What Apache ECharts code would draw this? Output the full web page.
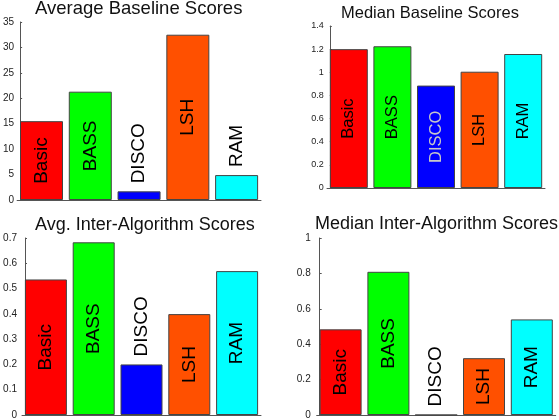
<!DOCTYPE html>
<html>
<head>
<meta charset="utf-8">
<script src="https://cdn.jsdelivr.net/npm/echarts@6/dist/echarts.min.js"></script>
<style>
  html,body{margin:0;padding:0;background:#fff;}
  #main{width:559px;height:420px;}
</style>
</head>
<body>
<div id="main"></div>
<script>
// algorithms on every panel
var algorithms = ['Basic', 'BASS', 'DISCO', 'LSH', 'RAM'];
var barColors = ['#ff0000', '#00ff00', '#0000ff', '#ff5000', '#00ffff'];

// scores
var avgBaseline = [15.5, 21.3, 1.7, 32.5, 4.9];
var medianBaseline = [1.2, 1.225, 0.885, 1.005, 1.158];
var avgInter = [0.536, 0.683, 0.2, 0.399, 0.569];
var medianInter = [0.484, 0.809, 0, 0.321, 0.54];

var FONT = '"Liberation Sans", Arial, Helvetica, sans-serif';

var panels = [
    {title: 'Average Baseline Scores', data: avgBaseline, max: 35, interval: 5,
     grid: {left: 16, top: 22, width: 245, height: 178}, off: -3, barWidth: 43,
     titleLeft: 35, titleTop: -1, titleSize: 18.5, tickSize: 10, margin: 6, labelSize: 19},
    {title: 'Median Baseline Scores', data: medianBaseline, max: 1.4, interval: 0.2,
     grid: {left: 327, top: 26, width: 218, height: 162}, off: -2.8, barWidth: 38,
     titleLeft: 341, titleTop: 5, titleSize: 16.5, tickSize: 9, margin: 6, labelSize: 16.5,
     dimLabel: 'DISCO'},
    {title: 'Avg. Inter-Algorithm Scores', data: avgInter, max: 0.7, interval: 0.1,
     grid: {left: 22, top: 238, width: 239, height: 178}, off: -3, barWidth: 42,
     titleLeft: 35, titleTop: 216, titleSize: 18, tickSize: 10, margin: 8, labelSize: 19},
    {title: 'Median Inter-Algorithm Scores', data: medianInter, max: 1, interval: 0.2,
     grid: {left: 316.7, top: 238, width: 239, height: 178}, off: -3, barWidth: 42,
     titleLeft: 315, titleTop: 215, titleSize: 18, tickSize: 10, margin: 9, labelSize: 19}
];

var ctx = document.createElement('canvas').getContext('2d');
function textWidth(str, size){
    ctx.font = size + 'px ' + FONT;
    return ctx.measureText(str).width;
}

var option = {
    animation: false,
    backgroundColor: '#fff',
    title: [], grid: [], xAxis: [], yAxis: [], series: []
};

panels.forEach(function(p, i){
    option.title.push({
        text: p.title, left: p.titleLeft, top: p.titleTop, padding: 0,
        textStyle: {fontFamily: FONT, fontSize: p.titleSize, fontWeight: 'normal', color: '#111'}
    });
    option.grid.push(p.grid);
    option.xAxis.push({
        type: 'category', gridIndex: i, data: algorithms,
        axisLine: {show: true, lineStyle: {color: '#555', width: 1}},
        axisTick: {show: false}, axisLabel: {show: false}
    });
    option.yAxis.push({
        type: 'value', gridIndex: i, min: 0, max: p.max, interval: p.interval, offset: p.off,
        axisLine: {show: true, lineStyle: {color: '#555', width: 1}},
        axisTick: {show: true, inside: true, length: 2, lineStyle: {color: '#555'}},
        splitLine: {show: false},
        axisLabel: {fontFamily: FONT, fontSize: p.tickSize, color: '#222', margin: p.margin,
            formatter: function(v){ return String(+v.toFixed(2)); }}
    });

    var items = p.data.map(function(v, k){
        var barPx = v / p.max * p.grid.height;
        var fits = textWidth(algorithms[k], p.labelSize) + 6 < barPx;
        var label = fits
            ? {position: 'inside', align: 'center', verticalAlign: 'middle'}
            : {position: 'top', distance: 8, align: 'left', verticalAlign: 'middle'};
        if (p.dimLabel === algorithms[k]) label.color = '#c8c8c8';
        return {
            value: v,
            itemStyle: {color: barColors[k]},
            label: label
        };
    });

    option.series.push({
        type: 'bar', xAxisIndex: i, yAxisIndex: i, data: items, barWidth: p.barWidth,
        itemStyle: {borderColor: '#444', borderWidth: 1},
        label: {show: true, rotate: 90, formatter: '{b}', color: '#000',
            fontFamily: FONT, fontSize: p.labelSize}
    });
});

var myChart = echarts.init(document.getElementById('main'), null, {renderer: 'canvas'});
myChart.setOption(option);
</script>
</body>
</html>
